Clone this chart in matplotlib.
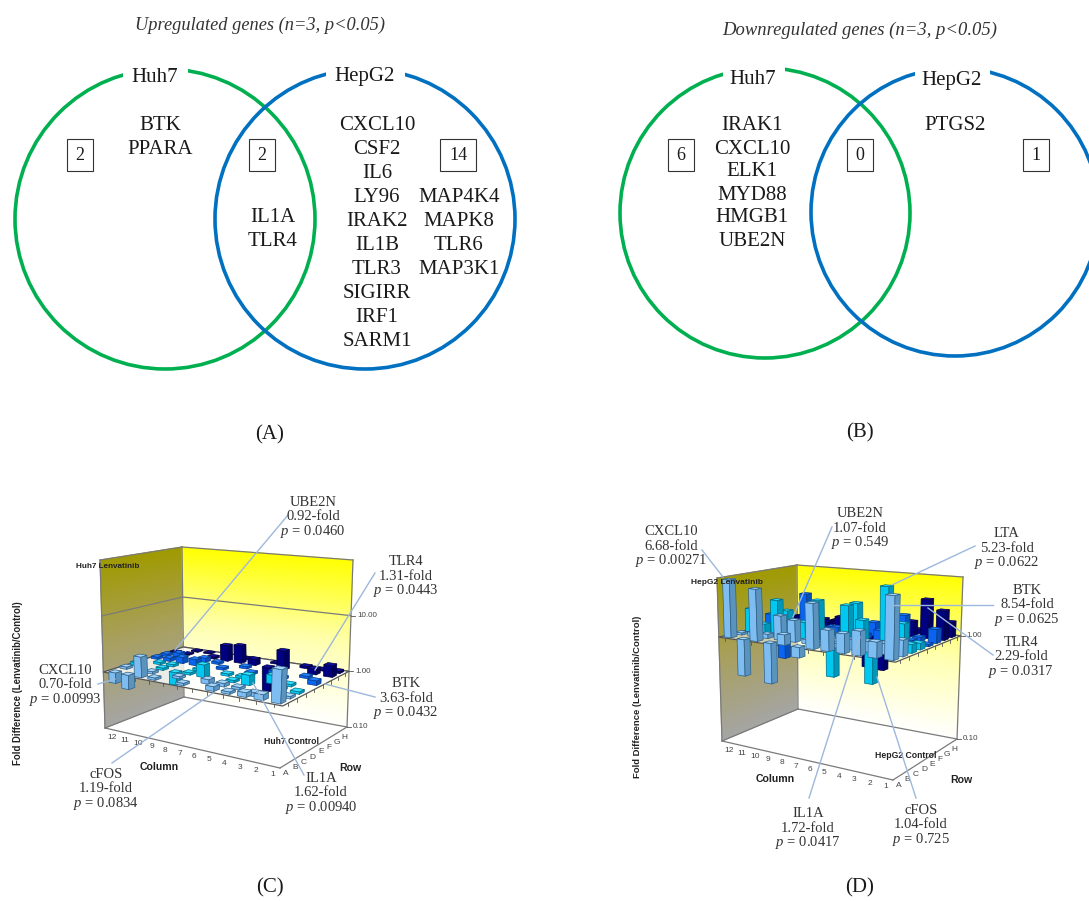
import numpy as np
import matplotlib
matplotlib.use("Agg")
import matplotlib.pyplot as plt
from matplotlib.colors import LinearSegmentedColormap
from matplotlib.patches import Circle, Polygon, Rectangle

plt.rcParams["font.family"] = "Liberation Serif"
plt.rcParams["mathtext.fontset"] = "custom"
plt.rcParams["mathtext.it"] = "Liberation Serif:italic"
plt.rcParams["mathtext.rm"] = "Liberation Serif"

# fold values, columns 1 to 12 for each row, None where no bar shows
huh7_A = [3.6, 1.25, 1.2, 1.1, 1.2, None, 1.1, None, 1.1, 2.3, 0.56, 0.65]
huh7_B = [1.1, None, 0.85, 1.1, 1.15, 1.2, None, 1.1, None, 1.1, None, 1.1]
huh7_C = [1.1, 1.1, None, 1.5, 1.1, None, 1.67, 1.1, 0.6, 1.1, None, 1.15]
huh7_D = [None, 1.1, 1.4, None, 1.1, 1.1, None, 1.1, None, 1.1, 1.1, None]
huh7_E = [1.2, None, 1.1, None, 1.1, None, 1.1, None, 1.3, 1.3, 1.15, 1.1]
huh7_F = [None, 1.1, None, 1.1, None, 1.1, None, 1.1, 1.2, None, 1.25, 1.1]
huh7_G = [1.6, 1.25, None, 2.2, 0.37, 1.3, 2.1, 1.95, 1.1, None, 1.05, 1.05]
huh7_H = [1.1, 1.05, 1.1, None, 1.05, None, 1.05, None, None, 1.05, 1.05, None]
huh7_rows = [huh7_A, huh7_B, huh7_C, huh7_D, huh7_E, huh7_F, huh7_G, huh7_H]

hepg2_A = [3.6, 1.38, 1.65, 1.5, 1.55, 2.6, 0.8, 1.25, 0.42, 3.1, 0.45, 3.6]
hepg2_B = [1.4, 1.25, 1.25, 1.25, 1.1, 1.1, 1.1, 1.6, 1.7, 1.1, 1.1, 1.05]
hepg2_C = [1.2, 1.15, 1.15, 1.75, 2.3, 0.48, 2.4, 1.45, 1.4, 2.2, 1.25, 1.7]
hepg2_D = [1.15, 1.65, 3.5, 0.42, 2.3, 1.15, 1.15, 1.15, 1.15, 1.65, 1.1, 1.1]
hepg2_E = [1.05, 1.1, 1.1, 1.25, 1.1, 1.1, 1.2, 1.1, 1.1, 1.1, 0.5, 1.35]
hepg2_F = [1.35, 1.1, 1.7, 1.1, 1.35, 1.1, 1.1, 1.1, 1.1, 2.2, 1.1, 1.1]
hepg2_G = [1.9, 2.35, 1.4, 1.1, 0.43, 0.44, 1.1, 1.3, 1.12, 1.1, 1.2, 1.1]
hepg2_H = [1.4, 1.1, 1.1, 1.1, 1.1, 1.1, 1.1, 1.1, 1.1, 1.1, 1.1, 1.1]
hepg2_rows = [hepg2_A, hepg2_B, hepg2_C, hepg2_D, hepg2_E, hepg2_F, hepg2_G, hepg2_H]

column_labels = ["1", "2", "3", "4", "5", "6", "7", "8", "9", "10", "11", "12"]
row_labels = ["A", "B", "C", "D", "E", "F", "G", "H"]

# front, left, right, back corners of the box at bottom and top of the z axis
huh7_low = [(280, 768), (105, 728), (347, 727), (184, 697)]
huh7_high = [(288, 582), (100, 560), (353, 560), (182, 547)]
hepg2_low = [(893, 780), (722, 741), (957, 739), (798, 709)]
hepg2_high = [(897, 595), (717, 578), (963, 577), (797, 565)]

# top, left, right, edge colours for rows A-B, C-D, E-F, G-H
face_colors = [("#a5d5f8", "#7dbdf2", "#5b93bf", "#2f5f85"),
               ("#30e0ff", "#00c8f0", "#0098b8", "#006a85"),
               ("#2080ff", "#0a64f0", "#0850b8", "#063a8a"),
               ("#1010a0", "#000080", "#000060", "#000040")]

# venn text
up_huh7 = ["BTK", "PPARA"]
up_both = ["IL1A", "TLR4"]
up_hepg2_1 = ["CXCL10", "CSF2", "IL6", "LY96", "IRAK2", "IL1B", "TLR3", "SIGIRR", "IRF1", "SARM1"]
up_hepg2_2 = ["MAP4K4", "MAPK8", "TLR6", "MAP3K1"]
down_huh7 = ["IRAK1", "CXCL10", "ELK1", "MYD88", "HMGB1", "UBE2N"]
down_hepg2 = ["PTGS2"]

# name, fold, p, text x, text y, line start, line end
huh7_notes = [
    ("UBE2N", "0.92", "0.0460", 313, 501, (288, 515), (175, 650)),
    ("TLR4", "1.31", "0.0443", 406, 560, (375, 573), (315, 670)),
    ("BTK", "3.63", "0.0432", 406, 682, (375, 697), (325, 684)),
    ("CXCL10", "0.70", "0.00993", 65, 669, (98, 684), (115, 679)),
    ("cFOS", "1.19", "0.0834", 106, 773, (112, 763), (213, 693)),
    ("IL1A", "1.62", "0.00940", 321, 777, (304, 775), (253, 683)),
]
hepg2_notes = [
    ("UBE2N", "1.07", "0.549", 860, 512, (832, 527), (793, 617)),
    ("CXCL10", "6.68", "0.00271", 671, 530, (702, 550), (723, 577)),
    ("LTA", "5.23", "0.0622", 1007, 532, (975, 546), (892, 585)),
    ("BTK", "8.54", "0.0625", 1027, 589, (993, 605), (892, 605)),
    ("TLR4", "2.29", "0.0317", 1021, 641, (993, 655), (928, 608)),
    ("IL1A", "1.72", "0.0417", 808, 812, (809, 798), (860, 637)),
    ("cFOS", "1.04", "0.725", 921, 809, (916, 798), (877, 677)),
]

fig = plt.figure(figsize=(10.89, 9.01), dpi=100)
ax = fig.add_axes([0, 0, 1, 1])
ax.set_xlim(0, 1089)
ax.set_ylim(901, 0)
ax.axis("off")


def project(low, high, zlim, u, v, z):
    t = (z - zlim[0]) / (zlim[1] - zlim[0])
    quad = np.array(low, float) + (np.array(high, float) - np.array(low, float)) * t
    f, l, r, b = quad
    a = np.array([[l[0], r[0], -b[0]], [l[1], r[1], -b[1]], [1, 1, -1]])
    g1, g2, g3 = np.linalg.solve(a, np.array([f[0], f[1], 1.0]))
    num = f + u * (g1 * l - f) + v * (g2 * r - f)
    den = 1 + u * (g1 - 1) + v * (g2 - 1)
    return num / den


def draw_chart(rows, low, high, zlim, grid_levels, z_ticks, plane_alpha):
    pr = lambda u, v, z: project(low, high, zlim, u, v, z)
    zs = np.linspace(zlim[0], zlim[1], 12)
    ss = np.linspace(0, 1, 8)
    yellow = LinearSegmentedColormap.from_list("y", ["#ffffff", "#ffffb0", "#ffff00"])
    olive = LinearSegmentedColormap.from_list("o", ["#a5a5a5", "#a8a060", "#a09a00"])
    for cmap, edge in ((olive, lambda s: (1, s)), (yellow, lambda s: (1 - s, 1))):
        pts = np.array([[pr(*edge(s), z) for s in ss] for z in zs])
        ax.pcolormesh(pts[..., 0], pts[..., 1], np.array([[z] * len(ss) for z in zs]),
                      shading="gouraud", cmap=cmap, zorder=1)
    line = dict(color="#7a7a7a", lw=0.9, zorder=2)
    for (a, b) in [((1, 0), (1, 1)), ((1, 1), (0, 1))]:
        for z in [zlim[0], zlim[1]] + grid_levels:
            p, q = pr(*a, z), pr(*b, z)
            ax.plot([p[0], q[0]], [p[1], q[1]], **line)
    for c in [(1, 0), (1, 1), (0, 1)]:
        p, q = pr(*c, zlim[0]), pr(*c, zlim[1])
        ax.plot([p[0], q[0]], [p[1], q[1]], **line)
    for a in [(1, 0), (0, 1)]:
        p, q = pr(*a, zlim[0]), pr(0, 0, zlim[0])
        ax.plot([p[0], q[0]], [p[1], q[1]], **line)
    plane = [pr(0, 0, 0), pr(1, 0, 0), pr(1, 1, 0), pr(0, 1, 0)]
    ax.add_patch(Polygon(plane, closed=True, facecolor="white", alpha=plane_alpha,
                         edgecolor="none", zorder=3))
    ax.add_patch(Polygon(plane, closed=True, fill=False, edgecolor="#555555", lw=0.9, zorder=3))

    # ticks and labels
    for c, lab in enumerate(column_labels):
        p = pr((c + 0.5) / 12, 0, 0)
        ax.plot([p[0], p[0]], [p[1], p[1] + 3], color="#555555", lw=0.6, zorder=3)
        q = pr((c + 0.5) / 12, 0, zlim[0])
        ax.text(q[0] + 1, q[1] + 8.5, lab, ha="center", va="center", fontsize=6,
                family="Liberation Sans", color="#444444", zorder=3)
    for r, lab in enumerate(row_labels):
        p = pr(0, (r + 0.5) / 8, 0)
        ax.plot([p[0], p[0]], [p[1], p[1] + 3], color="#555555", lw=0.6, zorder=3)
        q = pr(0, (r + 0.5) / 8, zlim[0])
        ax.text(q[0] + 1, q[1] + 8.5, lab, ha="center", va="center", fontsize=6,
                family="Liberation Sans", color="#444444", zorder=3)
    for z, lab in z_ticks:
        p = pr(0, 1, z)
        ax.plot([p[0], p[0] + 4], [p[1], p[1]], color="#555555", lw=0.6, zorder=3)
        ax.text(p[0] + 6, p[1], lab, ha="left", va="center", fontsize=5.8,
                family="Liberation Sans", color="#444444", zorder=3)

    half = 0.27
    order = sorted(((c, r) for c in range(12) for r in range(8)), key=lambda k: -(k[0] / 12 + k[1] / 8))
    for n, (c, r) in enumerate(order):
        val = rows[r][c]
        if val is None:
            continue
        z = float(np.log10(val))
        lo, hi = min(0, z), max(0, z)
        u0, u1 = (c + 0.5 - half) / 12, (c + 0.5 + half) / 12
        v0, v1 = (r + 0.5 - half) / 8, (r + 0.5 + half) / 8
        top, left, right, edge = face_colors[r // 2]
        kw = dict(closed=True, edgecolor=edge, lw=0.5, zorder=5 + n * 0.01)
        ax.add_patch(Polygon([pr(u0, v0, lo), pr(u1, v0, lo), pr(u1, v0, hi), pr(u0, v0, hi)], facecolor=left, **kw))
        ax.add_patch(Polygon([pr(u0, v0, lo), pr(u0, v1, lo), pr(u0, v1, hi), pr(u0, v0, hi)], facecolor=right, **kw))
        ax.add_patch(Polygon([pr(u0, v0, hi), pr(u1, v0, hi), pr(u1, v1, hi), pr(u0, v1, hi)], facecolor=top, **kw))


def draw_notes(notes):
    for name, fold, p, x, y, start, end in notes:
        ax.plot([start[0], end[0]], [start[1], end[1]], color="#9db8dc", lw=1.0, zorder=8)
        ax.text(x, y + 1.5, name, ha="center", va="center", fontsize=10.5, color="#333333", zorder=9)
        ax.text(x, y + 16, fold + "-fold", ha="center", va="center", fontsize=10.5, color="#333333", zorder=9)
        ax.text(x, y + 30.5, "$\\mathit{p}$ = " + p, ha="center", va="center", fontsize=10.5, color="#333333", zorder=9)


def draw_genes(genes, x, y, step=24):
    for i, gene in enumerate(genes):
        ax.text(x, y + 2 + i * step, gene, ha="center", va="center", fontsize=15, color="#1a1a1a", zorder=6)


def count_box(x, y, text, w=26):
    ax.text(x, y, text, ha="center", va="center", fontsize=13, color="#1a1a1a", zorder=7)
    ax.add_patch(Rectangle((x - w / 2, y - 16), w, 32, fill=False, edgecolor="#333333", lw=0.8, zorder=7))


green = "#00b050"
blue = "#0070c0"
for cx, cy, rad, col in [(165, 219, 150, green), (365, 219, 150, blue),
                         (765, 213, 145, green), (955, 212, 144, blue)]:
    ax.add_patch(Circle((cx, cy), rad, fill=False, edgecolor=col, lw=2.6, zorder=4))

# name, text x, text y, left and right end of the gap in the circle
for name, x, y, x0, x1 in [("Huh7", 155, 76, 123, 188), ("HepG2", 365, 76, 326, 405),
                           ("Huh7", 753, 79, 723, 785), ("HepG2", 952, 79, 915, 990)]:
    ax.add_patch(Rectangle((x0, y - 18), x1 - x0, 32, facecolor="white", edgecolor="none", zorder=5))
    ax.text(x, y + 1, name, ha="center", va="center", fontsize=15, color="#1a1a1a", zorder=6)

ax.text(260, 25, "Upregulated genes (n=3, p<0.05)", ha="center", va="center", style="italic",
        fontsize=13.2, color="#333333")
ax.text(860, 30, "Downregulated genes (n=3, p<0.05)", ha="center", va="center", style="italic",
        fontsize=13.4, color="#333333")

draw_genes(up_huh7, 160, 124)
draw_genes(up_both, 273, 216)
draw_genes(up_hepg2_1, 377, 124)
draw_genes(up_hepg2_2, 459, 196)
draw_genes(down_huh7, 752, 124, step=23)
draw_genes(down_hepg2, 955, 124)

count_box(80, 155, "2")
count_box(262, 155, "2")
count_box(458, 155, "14", w=36)
count_box(681, 155, "6")
count_box(860, 155, "0")
count_box(1036, 155, "1")

for x, y, panel in [(270, 435, "(A)"), (860, 433, "(B)"), (270, 888, "(C)"), (860, 888, "(D)")]:
    ax.text(x, y, panel, ha="center", va="center", fontsize=15, color="#1a1a1a")

draw_chart(huh7_rows, huh7_low, huh7_high, (-1, 2), [0, 1], [(1, "10.00"), (0, "1.00"), (-1, "0.10")], 0.8)
draw_chart(hepg2_rows, hepg2_low, hepg2_high, (-1, 0.57), [0], [(0, "1.00"), (-1, "0.10")], 0.5)

draw_notes(huh7_notes)
draw_notes(hepg2_notes)

sans_bold = dict(family="Liberation Sans", weight="bold", color="#222222", ha="center", va="center", zorder=7)
ax.text(108, 567, "Huh7 Lenvatinib", fontsize=5.9, **sans_bold)
ax.text(291, 742, "Huh7 Control", fontsize=6.2, **sans_bold)
ax.text(159, 767, "Column", fontsize=7.6, **sans_bold)
ax.text(350, 768, "Row", fontsize=7.6, **sans_bold)
ax.text(18, 683, "Fold Difference (Lenvatinib/Control)", fontsize=6.9, rotation=90, **sans_bold)
ax.text(727, 583, "HepG2 Lenvatinib", fontsize=6, **sans_bold)
ax.text(906, 755, "HepG2 Control", fontsize=6.2, **sans_bold)
ax.text(775, 779, "Column", fontsize=7.6, **sans_bold)
ax.text(961, 780, "Row", fontsize=7.6, **sans_bold)
ax.text(637, 697, "Fold Difference (Lenvatinib/Control)", fontsize=6.8, rotation=90, **sans_bold)

fig.savefig("out.png", dpi=100)
